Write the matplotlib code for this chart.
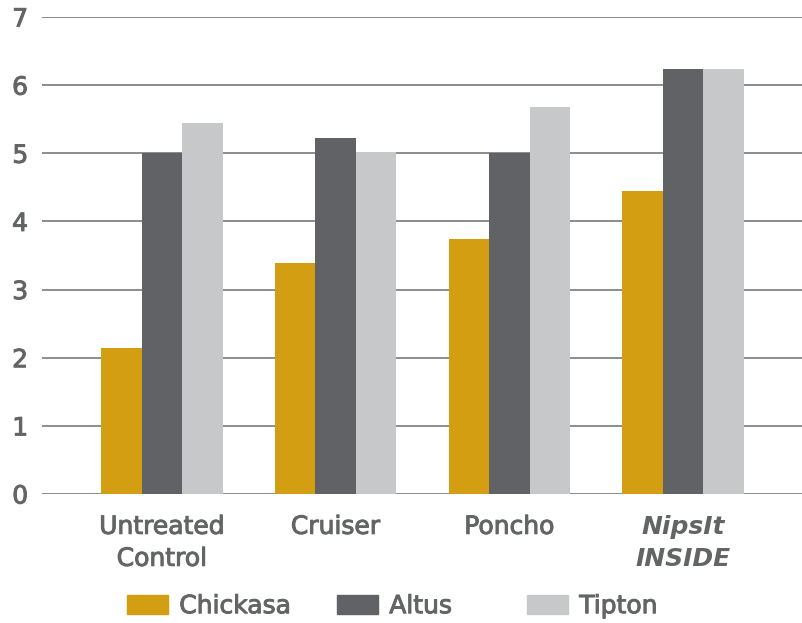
import matplotlib
matplotlib.use("Agg")
import matplotlib.pyplot as plt
from matplotlib.patches import Patch
import matplotlib.patheffects as pe
import numpy as np

categories = ["Untreated\nControl", "Cruiser", "Poncho", "NipsIt\nINSIDE"]
series_names = ["Chickasa", "Altus", "Tipton"]
chickasa = [2.14, 3.39, 3.74, 4.45]
altus = [5.0, 5.22, 5.0, 6.24]
tipton = [5.44, 5.02, 5.68, 6.24]
colors = ["#D49E12", "#616265", "#C7C8CA"]
yticks = [0, 1, 2, 3, 4, 5, 6, 7]

text_color = "#636466"
font = "DejaVu Sans"
thick = [pe.withStroke(linewidth=0.7, foreground=text_color)]

fig = plt.figure(figsize=(8.03, 6.23), dpi=100)
ax = fig.add_axes([42/803, (623-494)/623, 1 - 42/803, (494-17)/623])

x = np.arange(len(categories))
w = 40.5/174
for i, (vals, name) in enumerate(zip([chickasa, altus, tipton], series_names)):
    ax.bar(x + (i - 1) * w, vals, width=w, color=colors[i], label=name, zorder=3)

ax.set_ylim(0, 7)
ax.set_xlim(-0.69, 3.69)
ax.set_yticks(yticks)
ax.yaxis.grid(True, color="#6d6e70", linewidth=1.1, zorder=0)
ax.set_axisbelow(True)
for s in ax.spines.values():
    s.set_visible(False)
ax.tick_params(axis="both", length=0, labelsize=18, labelcolor=text_color)
ax.tick_params(axis="y", pad=10)
ax.tick_params(axis="x", pad=15)
ax.set_xticks(x)
ax.set_xticklabels(categories, fontfamily=font, linespacing=1.42)
for lbl in ax.get_yticklabels() + ax.get_xticklabels():
    lbl.set_fontfamily(font)
    lbl.set_path_effects(thick)
xl = ax.get_xticklabels()
xl[3].set_fontstyle("italic")
xl[3].set_fontweight("bold")
xl[3].set_path_effects([])

legend_x = [127/803, 337/803, 527/803]
for i, name in enumerate(series_names):
    leg = fig.legend(handles=[Patch(color=colors[i], label=name)], loc="center left",
                     bbox_to_anchor=(legend_x[i], 0.027), frameon=False,
                     borderpad=0, borderaxespad=0,
                     handlelength=1.64, handleheight=0.85, handletextpad=0.45,
                     prop={"family": font, "size": 18})
    for t in leg.get_texts():
        t.set_color(text_color)
        t.set_path_effects(thick)

fig.savefig("out.png", dpi=100)
